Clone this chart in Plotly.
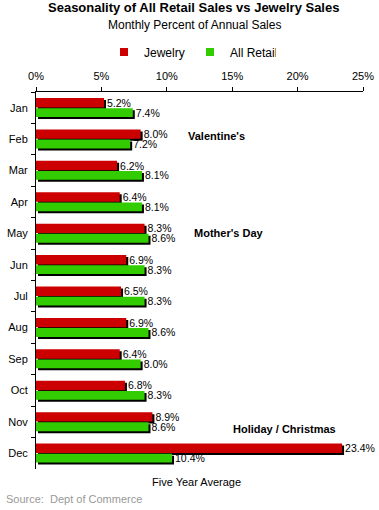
import plotly.graph_objects as go

months = ["Jan", "Feb", "Mar", "Apr", "May", "Jun", "Jul", "Aug", "Sep", "Oct", "Nov", "Dec"]
jewelry = [5.2, 8.0, 6.2, 6.4, 8.3, 6.9, 6.5, 6.9, 6.4, 6.8, 8.9, 23.4]
all_retail = [7.4, 7.2, 8.1, 8.1, 8.6, 8.3, 8.3, 8.6, 8.0, 8.3, 8.6, 10.4]
x_ticks = [0, 5, 10, 15, 20, 25]
x_tick_labels = ["0%", "5%", "10%", "15%", "20%", "25%"]

RED = "#CC0000"
GREEN = "#33CC00"
FONT = "Liberation Sans, Arial, sans-serif"

# geometry in axis units
px_per_pct = 327 / 25.0
px_per_cat = 377 / 12.0
sh_x = 2 / px_per_pct
sh_y = 2 / px_per_cat

red_off, red_w = -0.31, 0.30
grn_off, grn_w = 0.015, 0.28

fig = go.Figure()

def shadow(vals, off, w):
    return go.Bar(y=months, x=vals, base=sh_x, orientation="h",
                  offset=off + sh_y, width=w, marker=dict(color="black", line_width=0),
                  showlegend=False, hoverinfo="skip")

def main(vals, off, w, color, name):
    return go.Bar(y=months, x=vals, orientation="h", offset=off, width=w, name=name,
                  marker=dict(color=color, line_width=0), showlegend=False,
                  text=[f"{v:.1f}%" for v in vals], textposition="outside",
                  constraintext="none",
                  textfont=dict(family=FONT, size=10.5, color="black"),
                  cliponaxis=False)

fig.add_trace(shadow(jewelry, red_off, red_w))
fig.add_trace(main(jewelry, red_off, red_w, RED, "Jewelry"))
fig.add_trace(shadow(all_retail, grn_off, grn_w))
fig.add_trace(main(all_retail, grn_off, grn_w, GREEN, "All Retail"))

# legend-only entries (small square swatches)
for name, color in [("Jewelry", RED), ("All Retail", GREEN)]:
    fig.add_trace(go.Scatter(x=[None], y=[None], mode="markers", name=name,
                             marker=dict(symbol="square", size=8, color=color),
                             showlegend=True, hoverinfo="skip"))

def ypaper(p):
    return (469 - p) / 377.0

def xpaper(p):
    return (p - 36) / 327.0

annotations = [
    dict(text="<b>Seasonality of All Retail Sales vs Jewelry Sales</b>", x=xpaper(193), y=ypaper(8),
         xref="paper", yref="paper", showarrow=False, xanchor="center", yanchor="middle",
         font=dict(family=FONT, size=13, color="black")),
    dict(text="Monthly Percent of Annual Sales", x=xpaper(194), y=ypaper(25),
         xref="paper", yref="paper", showarrow=False, xanchor="center", yanchor="middle",
         font=dict(family=FONT, size=12, color="black")),
    dict(text="Five Year Average", x=xpaper(196), y=ypaper(482),
         xref="paper", yref="paper", showarrow=False, xanchor="center", yanchor="middle",
         font=dict(family=FONT, size=11, color="black")),
    dict(text="Source:  Dept of Commerce", x=xpaper(4), y=ypaper(499),
         xref="paper", yref="paper", showarrow=False, xanchor="left", yanchor="middle",
         font=dict(family=FONT, size=11, color="#999999")),
    dict(text="<b>Valentine's</b>", x=11.5, y=0.9, xref="x", yref="y", showarrow=False,
         xanchor="left", yanchor="middle", font=dict(family=FONT, size=11, color="black")),
    dict(text="<b>Mother's Day</b>", x=11.9, y=3.98, xref="x", yref="y", showarrow=False,
         xanchor="left", yanchor="middle", font=dict(family=FONT, size=11, color="black")),
    dict(text="<b>Holiday / Christmas</b>", x=14.9, y=10.23, xref="x", yref="y", showarrow=False,
         xanchor="left", yanchor="middle", font=dict(family=FONT, size=11, color="black")),
]

fig.update_layout(
    width=379, height=510,
    margin=dict(l=36, r=16, t=92, b=41, autoexpand=False),
    paper_bgcolor="white", plot_bgcolor="white",
    barmode="overlay",
    font=dict(family=FONT, size=11, color="black"),
    showlegend=True,
    legend=dict(orientation="h", x=xpaper(104), y=ypaper(52), xanchor="left", yanchor="middle",
                font=dict(family=FONT, size=12), itemwidth=30, traceorder="normal",
                entrywidth=41, bgcolor="rgba(0,0,0,0)"),
    annotations=annotations,
    xaxis=dict(range=[0, 25], side="top", tickvals=x_ticks, ticktext=x_tick_labels,
               showline=True, linecolor="black", linewidth=1, ticks="outside", ticklen=4,
               tickcolor="black", showgrid=False, zeroline=False, automargin=False,
               ticklabelstandoff=3, tickfont=dict(family=FONT, size=11)),
    yaxis=dict(categoryorder="array", categoryarray=months, range=[11.5, -0.5],
               showline=True, linecolor="black", linewidth=1, ticks="outside", ticklen=4,
               tickcolor="black", tickson="boundaries", showgrid=False, zeroline=False,
               automargin=False, ticklabelstandoff=5, tickfont=dict(family=FONT, size=11)),
)

fig.write_html("out.html", config={"displayModeBar": False},
               post_script="document.body.style.margin='0';")
